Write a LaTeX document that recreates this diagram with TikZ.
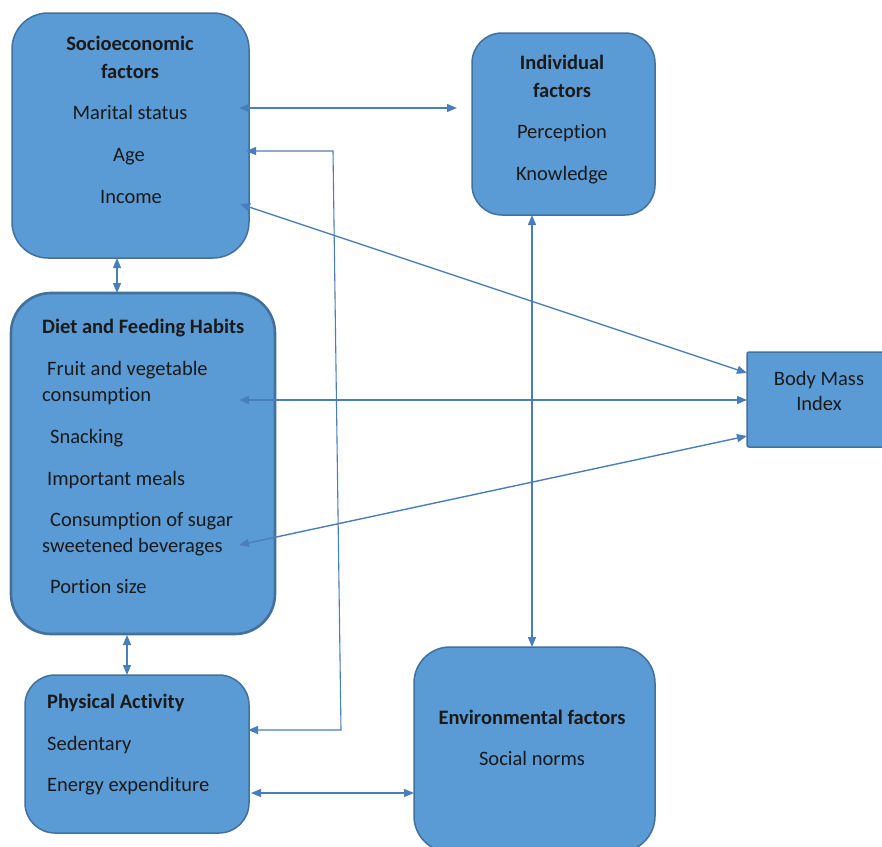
\documentclass[tikz,border=0pt]{standalone}
\usepackage{fontspec}
\setmainfont{Carlito}[Ligatures={NoCommon}]
\usetikzlibrary{arrows.meta}
\definecolor{boxfill}{HTML}{5B9BD5}
\definecolor{boxline}{HTML}{41719C}
\definecolor{arrowc}{HTML}{4A7EBB}
\definecolor{txt}{HTML}{1A1A1A}
\tikzset{
  box/.style={draw=boxline, fill=boxfill, line width=1.5pt, inner sep=0pt},
  lbl/.style={inner sep=0pt, text height=14pt, text depth=4pt, text=txt, font=\fontsize{20.5}{24}\selectfont},
  ttl/.style={lbl, font=\fontsize{20.5}{24}\selectfont\bfseries},
  conn/.style={draw=arrowc, line width=1.4pt, {Triangle[length=10pt,width=8pt]}-{Triangle[length=10pt,width=8pt]}}
}
\begin{document}
\begin{tikzpicture}[x=1pt,y=-1pt]
\useasboundingbox (0,0) rectangle (882,846);
\fill[white] (0,0) rectangle (882,846);
% boxes
\node[box, rounded corners=36pt, minimum width=237pt, minimum height=245pt] (socio) at (130.5,135.5) {};
\node[box, rounded corners=30pt, minimum width=183pt, minimum height=182pt] (indiv) at (563.5,124) {};
\node[box, rounded corners=2pt, minimum width=140pt, minimum height=95pt] (bmi) at (817,399.5) {};
\node[box, line width=2.6pt, rounded corners=40pt, minimum width=264pt, minimum height=341pt] (diet) at (143,463.5) {};
\node[box, rounded corners=30pt, minimum width=224pt, minimum height=158pt] (pa) at (137,754) {};
\node[box, rounded corners=36pt, minimum width=241pt, minimum height=205pt] (env) at (534.5,749.5) {};
% texts
\node[ttl] (t1) at (130,45) {Socioeconomic};
\node[ttl] (t2) at (130,73) {factors};
\node[lbl] (t3) at (130,114) {Marital status};
\node[lbl] (t4) at (129,156) {Age};
\node[lbl] (t5) at (131,198) {Income};
\node[ttl] (i1) at (562,64) {Individual};
\node[ttl] (i2) at (562,92) {factors};
\node[lbl] (i3) at (562,133) {Perception};
\node[lbl] (i4) at (562,175) {Knowledge};
\node[lbl] (b1) at (819,380) {Body Mass};
\node[lbl] (b2) at (819,405) {Index};
\node[ttl, anchor=west] (d1) at (42,328) {Diet and Feeding Habits};
\node[lbl, anchor=west] (d2) at (47,370) {Fruit and vegetable};
\node[lbl, anchor=west] (d3) at (42,396) {consumption};
\node[lbl, anchor=west] (d4) at (50,438) {Snacking};
\node[lbl, anchor=west] (d5) at (47,480) {Important meals};
\node[lbl, anchor=west] (d6) at (50,521) {Consumption of sugar};
\node[lbl, anchor=west] (d7) at (42,547) {sweetened beverages};
\node[lbl, anchor=west] (d8) at (50,588) {Portion size};
\node[ttl, anchor=west] (p1) at (47,703) {Physical Activity};
\node[lbl, anchor=west] (p2) at (47,745) {Sedentary};
\node[lbl, anchor=west] (p3) at (47,786) {Energy expenditure};
\node[ttl] (e1) at (532,719) {Environmental factors};
\node[lbl] (e2) at (532,760) {Social norms};
% connector end points
\coordinate (mA) at (239,108);
\coordinate (mB) at (457,108);
\coordinate (aA) at (246,151);
\coordinate (aC1) at (333,151);
\coordinate (aC2) at (341,730);
\coordinate (aB) at (248,730);
\coordinate (inA) at (240,204);
\coordinate (inB) at (747,373);
\coordinate (fA) at (239,400);
\coordinate (fB) at (747,400);
\coordinate (sA) at (239,545);
\coordinate (sB) at (747,436);
\coordinate (sdA) at (117,258);
\coordinate (sdB) at (117,293);
\coordinate (dpA) at (127,635);
\coordinate (dpB) at (127,675);
\coordinate (ieA) at (532,215);
\coordinate (ieB) at (532,647);
\coordinate (peA) at (251,793);
\coordinate (peB) at (414,793);
% connectors
\draw[conn] (mA) -- (mB);
\draw[conn, line width=1.1pt] (aA) -- (aC1) -- (aC2) -- (aB);
\draw[conn] (inA) -- (inB);
\draw[conn] (fA) -- (fB);
\draw[conn] (sA) -- (sB);
\draw[conn] (sdA) -- (sdB);
\draw[conn] (dpA) -- (dpB);
\draw[conn] (ieA) -- (ieB);
\draw[conn] (peA) -- (peB);
\end{tikzpicture}
\end{document}
